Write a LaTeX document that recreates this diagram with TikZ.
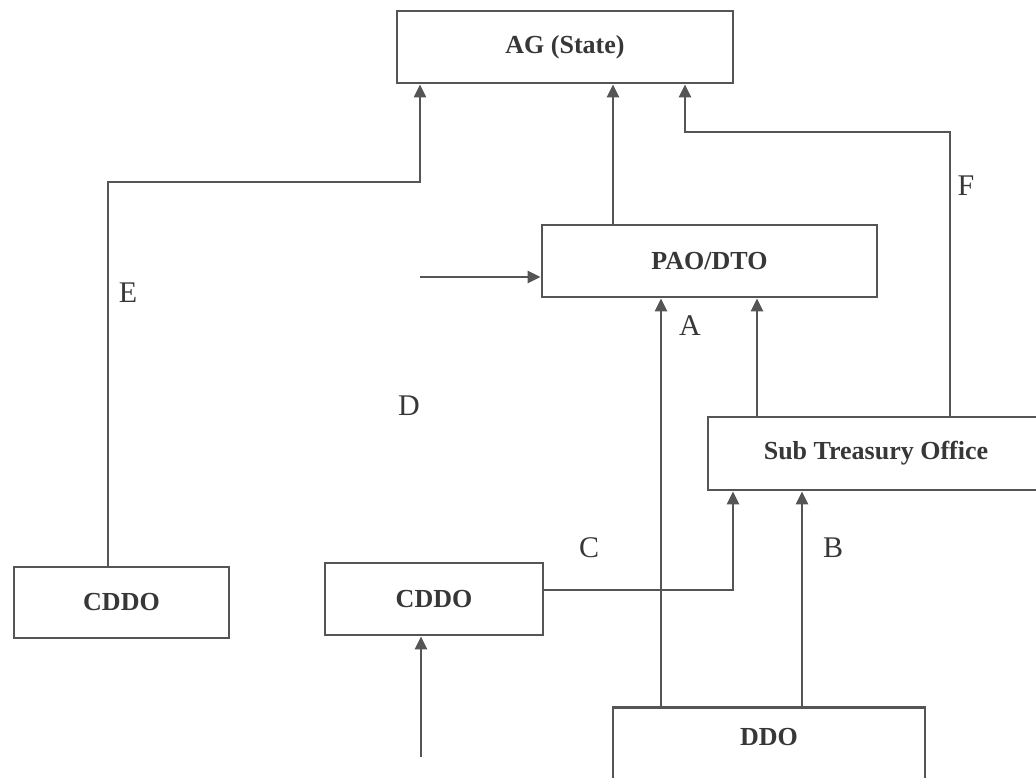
\documentclass[tikz,border=0pt]{standalone}
\usepackage{fontspec}
\setmainfont{Liberation Serif}
\usetikzlibrary{arrows.meta}
\definecolor{ln}{RGB}{85,85,85}
\definecolor{tx}{RGB}{55,55,55}
\begin{document}
\begin{tikzpicture}[x=1pt,y=-1pt,
  box/.style={draw=ln, line width=2.8pt, rectangle, inner sep=0pt,
    font=\fontsize{26}{30}\selectfont\bfseries, text=tx},
  conn/.style={draw=ln, line width=2.8pt},
  arr/.style={conn, -{Triangle[width=12pt,length=13pt]}},
  lab/.style={font=\fontsize{30}{34}\selectfont, text=tx, inner sep=0pt}]
\useasboundingbox (0,0) rectangle (1036,777);
\clip (0,0) rectangle (1036,777);
\fill[white] (0,0) rectangle (1036,777);
% boxes
\node[box, minimum width=336pt, minimum height=72pt] (ag) at (565,47) {AG (State)};
\node[box, minimum width=335pt, minimum height=72pt] (pao) at (709.5,261) {PAO/DTO};
\node[box, minimum width=336pt, minimum height=73pt] (sto) at (876,453.5) {Sub Treasury Office};
\node[box, minimum width=215pt, minimum height=71pt] (cddoL) at (121.5,602.5) {CDDO};
\node[box, minimum width=218pt, minimum height=72pt] (cddoM) at (434,599) {CDDO};
\node[box, minimum width=312pt, text height=38pt, text depth=40pt, anchor=north] (ddo) at (769,706) {DDO};
% helper coordinates
\coordinate (xE) at (108,0);
\coordinate (eC) at (420,182);
\coordinate (x613) at (613,0);
\coordinate (xF) at (950,0);
\coordinate (fC) at (685,132);
\coordinate (dIn) at (420,277);
\coordinate (x661) at (661,0);
\coordinate (x757) at (757,0);
\coordinate (x733) at (733,0);
\coordinate (yC) at (0,590);
\coordinate (x802) at (802,0);
\coordinate (bIn) at (421,757);
% connectors
\draw[arr] (cddoL.north -| xE) |- (eC) -- (eC |- ag.south);
\draw[arr] (pao.north -| x613) -- (x613 |- ag.south);
\draw[arr] (sto.north -| xF) |- (fC) -- (fC |- ag.south);
\draw[arr] (dIn) -- (dIn -| pao.west);
\draw[arr] (ddo.north -| x661) -- (x661 |- pao.south);
\draw[arr] (sto.north -| x757) -- (x757 |- pao.south);
\draw[arr] (cddoM.east |- yC) -| (x733 |- sto.south);
\draw[arr] (ddo.north -| x802) -- (x802 |- sto.south);
\draw[arr] (bIn) -- (bIn |- cddoM.south);
% labels
\node[lab] (lE) at (128,293) {E};
\node[lab] (lD) at (409,406) {D};
\node[lab] (lA) at (690,326) {A};
\node[lab] (lC) at (589,548) {C};
\node[lab] (lB) at (833,548) {B};
\node[lab] (lF) at (966,186) {F};
\end{tikzpicture}
\end{document}
